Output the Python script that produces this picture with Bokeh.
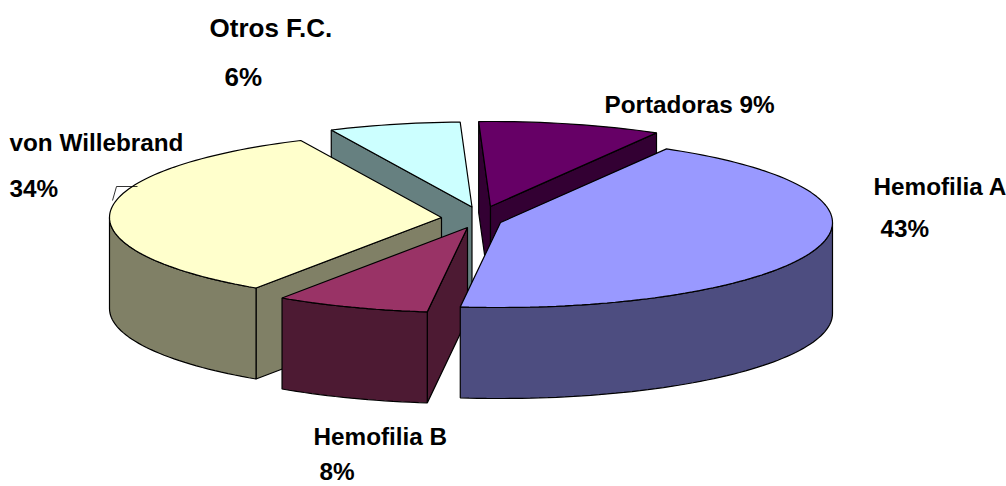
import math
from bokeh.plotting import figure
from bokeh.models import Range1d
from bokeh.core.properties import value
from bokeh.embed import file_html
from bokeh.resources import INLINE

# Data
categories = ["Hemofilia A", "Hemofilia B", "von Willebrand", "Otros F.C.", "Portadoras"]
shares = [43.6, 7.5, 33.6, 6.4, 8.9]
percent_labels = ["43%", "8%", "34%", "6%", "9%"]

# Style
top_colors = ["#9999FF", "#993366", "#FFFFCC", "#CCFFFF", "#660066"]
wall_colors = ["#4D4D80", "#4D1A33", "#808066", "#668080", "#330033"]

# Layout of the exploded 3D pie
FIRST_ANGLE = 60.0
RX, RY, DEPTH = 332.0, 85.0, 91.0
BASE = (471.0, 217.0)
PULL = [(29.0, 5.0), (-4.0, 10.0), (-30.0, 0.0), (0.5, -10.5), (19.0, -11.0)]
DRAW_ORDER = [3, 4, 2, 1, 0]


def arc(cx, cy, a0, a1):
    n = max(2, int(abs(a1 - a0) / 1.5))
    ang = [math.radians(a0 + (a1 - a0) * i / n) for i in range(n + 1)]
    return [cx + RX * math.cos(t) for t in ang], [cy - RY * math.sin(t) for t in ang]


# Angular spans, running clockwise from FIRST_ANGLE
spans = []
angle = FIRST_ANGLE
for s in shares:
    sweep = s / sum(shares) * 360.0
    spans.append((angle - sweep, angle))
    angle -= sweep

xs, ys, fills = [], [], []


def add(px, py, color):
    xs.append(px)
    ys.append(py)
    fills.append(color)


for i in DRAW_ORDER:
    lo, hi = spans[i]
    cx, cy = BASE[0] + PULL[i][0], BASE[1] + PULL[i][1]
    # straight cut faces that look towards the viewer
    for edge, visible in ((hi, math.cos(math.radians(hi)) < 0), (lo, math.cos(math.radians(lo)) > 0)):
        if visible:
            ex = cx + RX * math.cos(math.radians(edge))
            ey = cy - RY * math.sin(math.radians(edge))
            add([cx, ex, ex, cx], [cy, ey, ey + DEPTH, cy + DEPTH], wall_colors[i])
    # curved outer wall: only the front half of the ellipse shows
    f0, f1 = max(lo, -180.0), min(hi, 0.0)
    if f1 > f0:
        ax, ay = arc(cx, cy, f0, f1)
        add(ax + ax[::-1], ay + [v + DEPTH for v in ay[::-1]], wall_colors[i])
    # top face
    ax, ay = arc(cx, cy, lo, hi)
    add([cx] + ax, [cy] + ay, top_colors[i])

p = figure(width=1006, height=486, x_range=Range1d(0, 1006), y_range=Range1d(486, 0),
           output_backend="svg", toolbar_location=None, min_border=0,
           x_axis_type=None, y_axis_type=None, outline_line_color=None)
p.grid.visible = False
p.background_fill_color = "white"
p.border_fill_color = "white"

p.patches(xs, ys, fill_color=fills, line_color="black", line_width=1.2)

# leader line of the von Willebrand label
p.line([137, 116, 112], [186, 186, 200], line_color="black", line_width=0.8)

lab_x = [873, 880, 313, 319, 9, 9, 604]
lab_y = [186, 228, 436, 471, 142, 188, 104]
lab_t = [categories[0], percent_labels[0], categories[1], percent_labels[1],
         categories[2], percent_labels[2], categories[4] + " " + percent_labels[4]]
p.text(lab_x, lab_y, text=lab_t, text_font=value("Liberation Sans"), text_font_style="bold",
       text_font_size="24.3px", text_color="black", text_align="left", text_baseline="alphabetic")

p.text([209, 224], [27, 76], text=[categories[3], percent_labels[3]],
       text_font=value("Liberation Sans"), text_font_style="bold",
       text_font_size="26px", text_color="black", text_align="left", text_baseline="alphabetic")

open("out.html", "w").write(file_html(p, INLINE))
